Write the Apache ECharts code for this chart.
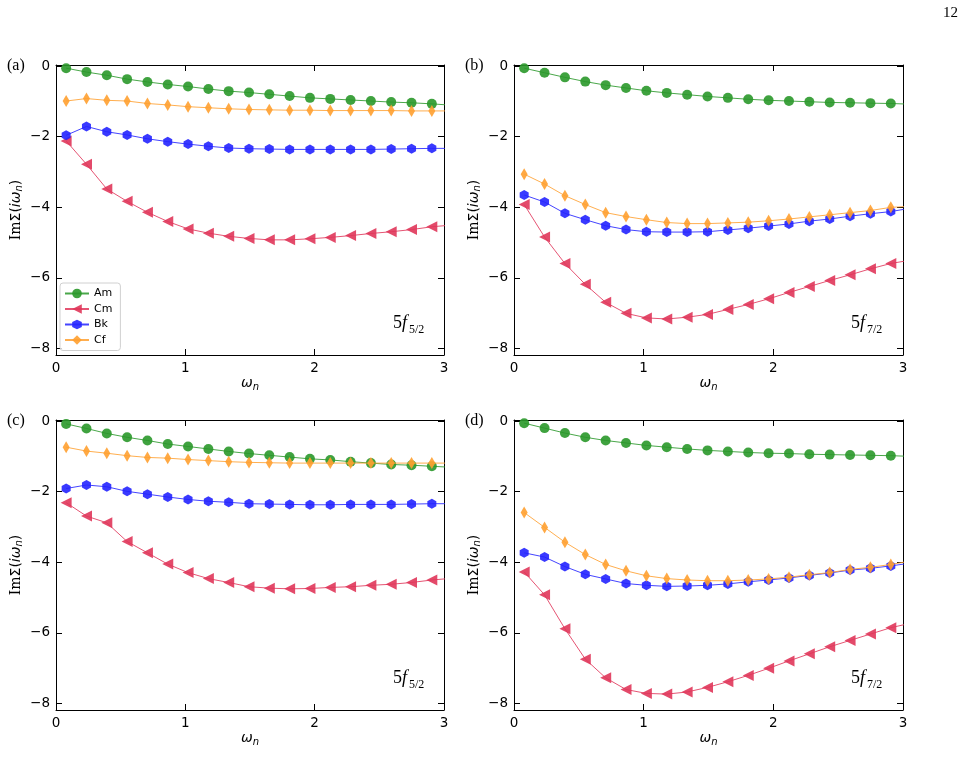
<!DOCTYPE html>
<html>
<head>
<meta charset="utf-8">
<script src="https://cdn.jsdelivr.net/npm/echarts@6/dist/echarts.min.js"></script>
<style>
html,body{margin:0;padding:0;background:#fff}
#chart{width:973px;height:784px}
</style>
</head>
<body>
<div id="chart"></div>
<script>
// Matsubara frequencies (last one lies just past the frame and gets clipped)
var omega = [0.0785, 0.2356, 0.3927, 0.5498, 0.7069, 0.8639, 1.0210, 1.1781, 1.3352, 1.4923,
             1.6493, 1.8064, 1.9635, 2.1206, 2.2777, 2.4347, 2.5918, 2.7489, 2.9060, 3.0631]
var yTicks = [0, -2, -4, -6, -8]
var seriesNames = ['Am', 'Cm', 'Bk', 'Cf']
var panelLabels = ['(a)', '(b)', '(c)', '(d)']
var orbitalLabels = ['5/2', '7/2', '5/2', '7/2']

// (a) 5f5/2
var amA = [-0.06, -0.17, -0.26, -0.37, -0.45, -0.52, -0.58, -0.65, -0.71, -0.75, -0.80, -0.85, -0.90, -0.93, -0.96, -0.99, -1.02, -1.04, -1.07, -1.11]
var cmA = [-2.12, -2.78, -3.48, -3.83, -4.14, -4.40, -4.61, -4.73, -4.82, -4.88, -4.92, -4.92, -4.89, -4.85, -4.80, -4.74, -4.69, -4.63, -4.55, -4.50]
var bkA = [-1.96, -1.71, -1.86, -1.95, -2.06, -2.14, -2.21, -2.27, -2.32, -2.34, -2.35, -2.36, -2.36, -2.36, -2.36, -2.36, -2.35, -2.34, -2.33, -2.33]
var cfA = [-0.99, -0.92, -0.97, -0.99, -1.06, -1.10, -1.15, -1.18, -1.21, -1.23, -1.24, -1.25, -1.25, -1.26, -1.26, -1.26, -1.26, -1.27, -1.27, -1.27]
// (b) 5f7/2
var amB = [-0.06, -0.19, -0.32, -0.44, -0.54, -0.62, -0.70, -0.76, -0.81, -0.86, -0.90, -0.94, -0.97, -0.99, -1.01, -1.03, -1.04, -1.05, -1.06, -1.08]
var cmB = [-3.92, -4.84, -5.59, -6.18, -6.69, -7.00, -7.13, -7.16, -7.11, -7.03, -6.89, -6.75, -6.59, -6.41, -6.24, -6.07, -5.91, -5.74, -5.59, -5.49]
var bkB = [-3.65, -3.85, -4.17, -4.35, -4.52, -4.63, -4.69, -4.70, -4.70, -4.69, -4.64, -4.59, -4.53, -4.47, -4.39, -4.33, -4.25, -4.18, -4.12, -4.02]
var cfB = [-3.06, -3.34, -3.67, -3.92, -4.15, -4.26, -4.35, -4.43, -4.46, -4.46, -4.44, -4.42, -4.38, -4.33, -4.27, -4.21, -4.15, -4.09, -4.00, -3.97]
// (c) 5f5/2
var amC = [-0.08, -0.21, -0.35, -0.46, -0.55, -0.65, -0.72, -0.79, -0.86, -0.92, -0.97, -1.02, -1.07, -1.10, -1.15, -1.19, -1.23, -1.25, -1.28, -1.31]
var cmC = [-2.31, -2.69, -2.88, -3.41, -3.73, -4.05, -4.29, -4.46, -4.57, -4.69, -4.73, -4.75, -4.74, -4.71, -4.69, -4.65, -4.62, -4.57, -4.50, -4.45]
var bkC = [-1.91, -1.81, -1.86, -1.99, -2.07, -2.15, -2.22, -2.27, -2.30, -2.34, -2.35, -2.36, -2.37, -2.37, -2.36, -2.36, -2.36, -2.35, -2.34, -2.34]
var cfC = [-0.74, -0.85, -0.91, -0.98, -1.03, -1.05, -1.09, -1.12, -1.15, -1.17, -1.18, -1.19, -1.19, -1.19, -1.19, -1.19, -1.19, -1.19, -1.19, -1.19]
// (d) 5f7/2
var amD = [-0.06, -0.20, -0.34, -0.46, -0.55, -0.62, -0.69, -0.74, -0.79, -0.83, -0.86, -0.89, -0.91, -0.92, -0.94, -0.95, -0.96, -0.97, -0.98, -1.00]
var cmD = [-4.27, -4.92, -5.88, -6.74, -7.27, -7.60, -7.71, -7.73, -7.67, -7.54, -7.38, -7.20, -7.00, -6.79, -6.59, -6.39, -6.21, -6.03, -5.85, -5.72]
var bkD = [-3.73, -3.85, -4.12, -4.34, -4.47, -4.60, -4.65, -4.68, -4.67, -4.65, -4.61, -4.55, -4.50, -4.44, -4.37, -4.30, -4.22, -4.17, -4.10, -4.02]
var cfD = [-2.59, -3.01, -3.43, -3.78, -4.06, -4.24, -4.38, -4.46, -4.50, -4.52, -4.52, -4.50, -4.47, -4.42, -4.35, -4.29, -4.20, -4.14, -4.06, -3.96]

var panelData = [
  [amA, cmA, bkA, cfA],
  [amB, cmB, bkB, cfB],
  [amC, cmC, bkC, cfC],
  [amD, cmD, bkD, cfD]
]

var grids = [
  {left: 56, top: 65, width: 388, height: 290},
  {left: 514, top: 65, width: 389, height: 290},
  {left: 56, top: 420, width: 388, height: 290},
  {left: 514, top: 420, width: 389, height: 290}
]

var colors = ['#2a982a', '#e0365a', '#2323ff', '#ffa030']
var hexagon = 'path://M50,0 L93.3,25 L93.3,75 L50,100 L6.7,75 L6.7,25 Z'
var symbols = [
  {symbol: 'circle', symbolSize: 10, symbolRotate: 0},
  {symbol: 'triangle', symbolSize: 11, symbolRotate: 90},
  {symbol: hexagon, symbolSize: [9, 10], symbolRotate: 0},
  {symbol: 'diamond', symbolSize: [7, 12], symbolRotate: 0}
]

var tickFont = {color: '#000', fontSize: 13.5, fontFamily: 'DejaVu Sans'}
var lineStyle = {color: '#000', width: 1}

function fmt(v){
  return v < 0 ? '\u2212' + (-v) : '' + v
}

var xAxes = [], yAxes = [], series = [], graphics = []

grids.forEach(function(g, i){
  // bottom x axis with labels
  xAxes.push({
    gridIndex: i, type: 'value', min: 0, max: 3, interval: 1, position: 'bottom',
    axisLine: {show: true, onZero: false, lineStyle: lineStyle},
    axisTick: {inside: true, length: 6, lineStyle: lineStyle},
    axisLabel: Object.assign({margin: 6}, tickFont),
    splitLine: {show: false},
    name: '{w|\u03c9}{n|n}', nameLocation: 'middle', nameGap: 19,
    nameTextStyle: {rich: {
      w: {fontFamily: 'DejaVu Sans', fontStyle: 'italic', fontSize: 14, color: '#000'},
      n: {fontFamily: 'DejaVu Sans', fontStyle: 'italic', fontSize: 10, color: '#000', padding: [8, 0, 0, 0]}
    }}
  })
  // top x axis: frame + inward ticks only
  xAxes.push({
    gridIndex: i, type: 'value', min: 0, max: 3, interval: 1, position: 'top',
    axisLine: {show: true, onZero: false, lineStyle: lineStyle},
    axisTick: {inside: true, length: 6, lineStyle: lineStyle},
    axisLabel: {show: false},
    splitLine: {show: false}
  })
  yAxes.push({
    gridIndex: i, type: 'value', min: -8.18, max: 0.03, position: 'left',
    axisLine: {show: true, onZero: false, lineStyle: lineStyle},
    axisTick: {inside: true, length: 6, lineStyle: lineStyle, customValues: yTicks},
    axisLabel: Object.assign({margin: 6, formatter: fmt, customValues: yTicks}, tickFont),
    splitLine: {show: false},
    name: '{a|Im}{b|\u03a3(}{c|i\u03c9}{n|n}{b|)}', nameLocation: 'middle', nameGap: 32,
    nameTextStyle: {rich: {
      a: {fontFamily: 'DejaVu Serif', fontSize: 14, color: '#000'},
      b: {fontFamily: 'DejaVu Sans', fontSize: 14, color: '#000'},
      c: {fontFamily: 'DejaVu Sans', fontStyle: 'italic', fontSize: 14, color: '#000'},
      n: {fontFamily: 'DejaVu Sans', fontStyle: 'italic', fontSize: 10, color: '#000', padding: [6, 0, 0, 0]}
    }}
  })
  yAxes.push({
    gridIndex: i, type: 'value', min: -8.18, max: 0.03, position: 'right',
    axisLine: {show: true, onZero: false, lineStyle: lineStyle},
    axisTick: {inside: true, length: 6, lineStyle: lineStyle, customValues: yTicks},
    axisLabel: {show: false},
    splitLine: {show: false}
  })

  panelData[i].forEach(function(vals, k){
    series.push({
      name: seriesNames[k],
      type: 'line',
      xAxisIndex: i * 2,
      yAxisIndex: i * 2,
      data: omega.map(function(x, j){ return [x, vals[j]] }),
      symbol: symbols[k].symbol,
      symbolSize: symbols[k].symbolSize,
      symbolRotate: symbols[k].symbolRotate,
      showAllSymbol: true,
      clip: true,
      z: 2 + k,
      lineStyle: {color: colors[k], width: 1, opacity: 0.85},
      itemStyle: {color: colors[k], opacity: 0.9},
      emphasis: {disabled: true},
      animation: false
    })
  })

  // panel label and orbital label
  graphics.push({
    type: 'text', x: g.left - 49, y: g.top + 1,
    style: {text: panelLabels[i], font: '16px "Liberation Serif"', fill: '#000', verticalAlign: 'middle'}
  })
  graphics.push({
    type: 'text', x: g.left + 337, y: g.top + 258,
    style: {text: '{a|5}{b|f}', fill: '#000', verticalAlign: 'middle',
      rich: {a: {font: '18px "Liberation Serif"'}, b: {font: 'italic 18px "Liberation Serif"'}}}
  })
  graphics.push({
    type: 'text', x: g.left + 353, y: g.top + 265,
    style: {text: orbitalLabels[i], font: '12px "Liberation Serif"', fill: '#000', verticalAlign: 'middle'}
  })
})

graphics.push({
  type: 'text', x: 943, y: 13,
  style: {text: '12', font: '15px "Liberation Serif"', fill: '#000', verticalAlign: 'middle'}
})

var chart = echarts.init(document.getElementById('chart'))
chart.setOption({
  backgroundColor: '#fff',
  animation: false,
  grid: grids,
  xAxis: xAxes,
  yAxis: yAxes,
  legend: {
    data: seriesNames,
    orient: 'vertical',
    left: 60, top: 283,
    itemWidth: 24, itemHeight: 12, itemGap: 4.5,
    padding: [5, 8, 5, 4],
    borderColor: '#d0d0d0', borderWidth: 1, borderRadius: 3,
    backgroundColor: 'rgba(255,255,255,0.8)',
    textStyle: {fontFamily: 'DejaVu Sans', fontSize: 11, color: '#000'},
    selectedMode: false
  },
  series: series,
  graphic: graphics
})
</script>
</body>
</html>
